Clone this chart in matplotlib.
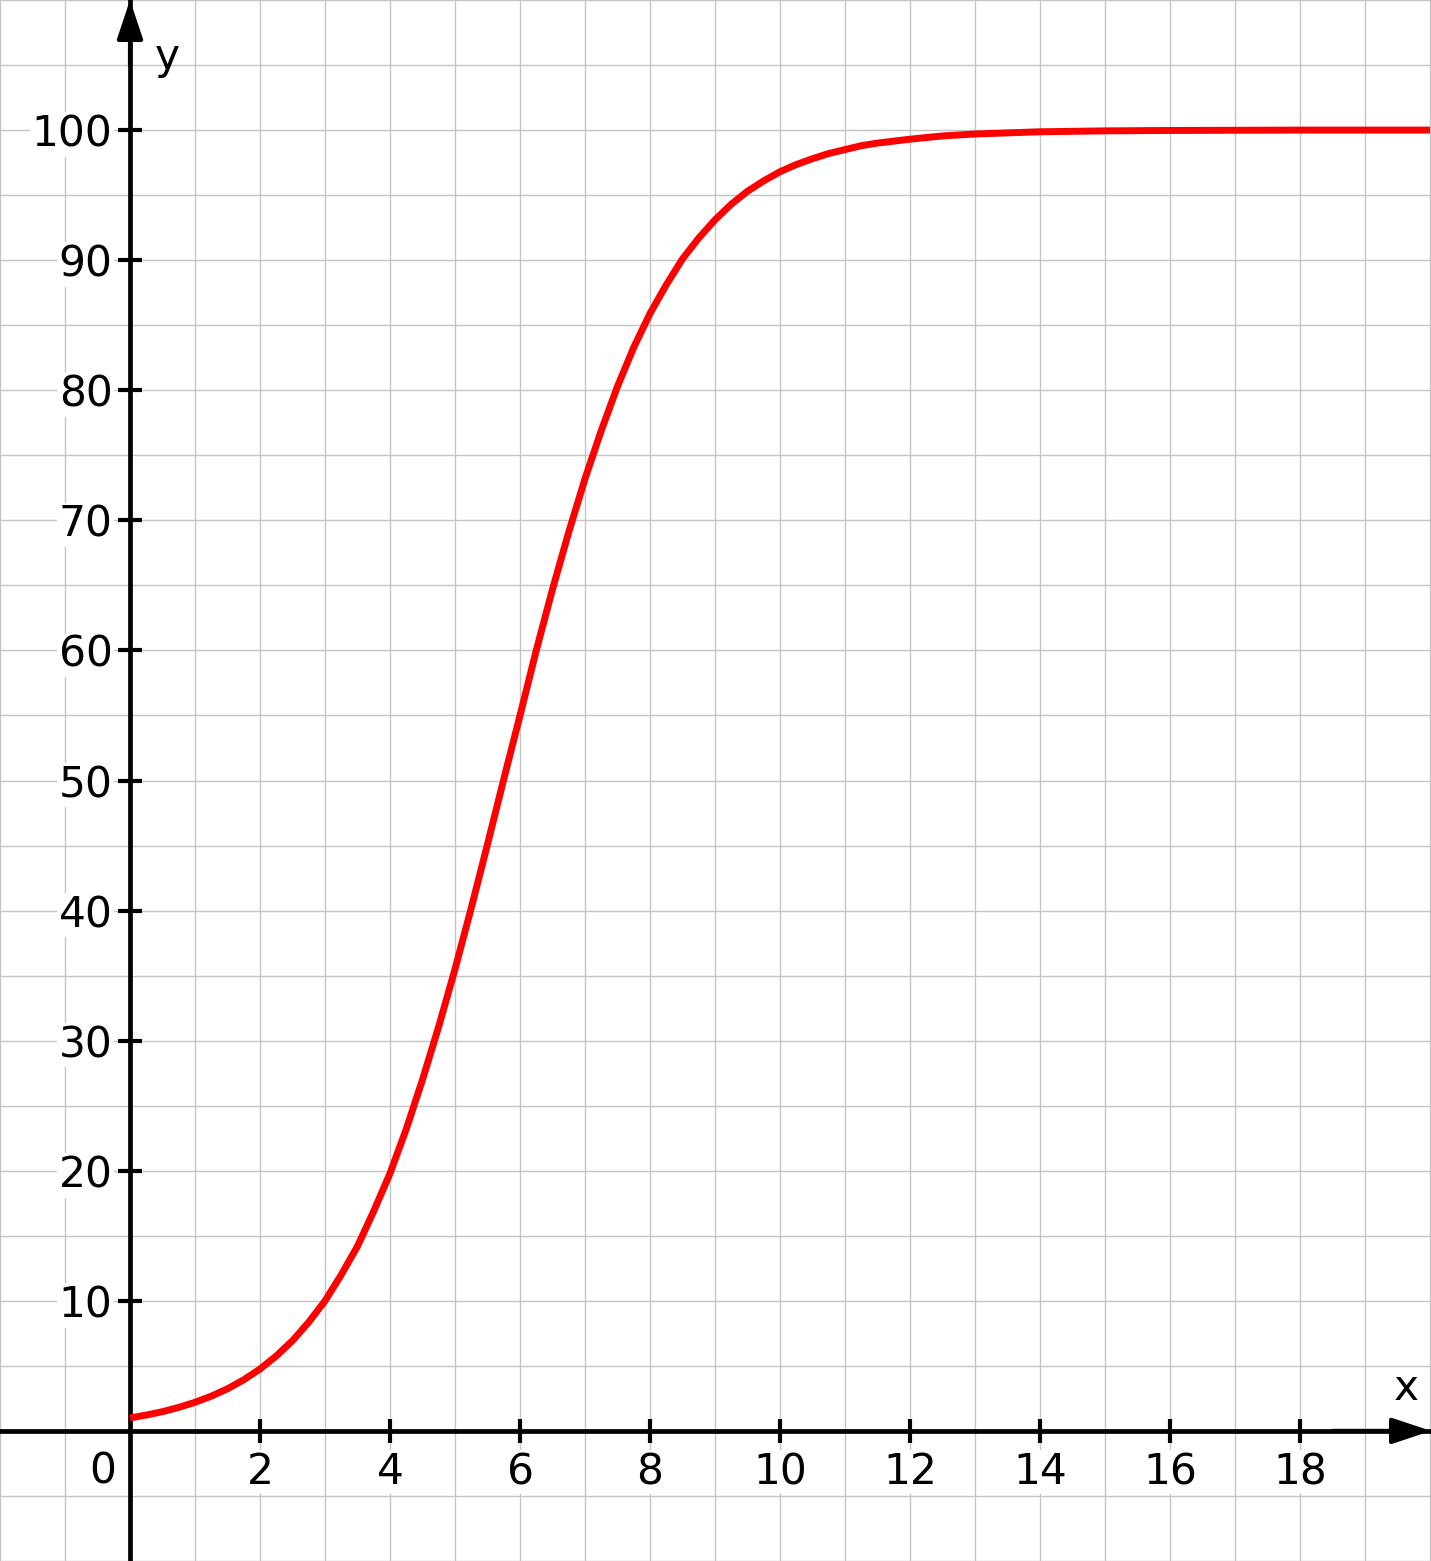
import numpy as np
import matplotlib
matplotlib.use("Agg")
import matplotlib.pyplot as plt
from matplotlib.ticker import MultipleLocator

# values
x_vals = [0, 0.25, 0.5, 0.75, 1, 1.25, 1.5, 1.75, 2, 2.25, 2.5, 2.75, 3, 3.25,
          3.5, 3.75, 4, 4.25, 4.5, 4.75, 5, 5.25, 5.5, 5.75, 6, 6.25, 6.5,
          6.75, 7, 7.25, 7.5, 7.75, 8, 8.25, 8.5, 8.75, 9, 9.25, 9.5, 9.75,
          10, 10.25, 10.5, 10.75, 11, 11.25, 11.5, 12, 12.5, 13, 14, 15, 16,
          18, 20]
y_vals = [1.0, 1.22, 1.48, 1.81, 2.2, 2.67, 3.24, 3.93, 4.76, 5.76, 6.94,
          8.36, 10.0, 12.0, 14.2, 16.9, 19.8, 23.2, 27.0, 31.1, 35.5, 40.2,
          45.1, 50.1, 55.0, 60.0, 64.7, 69.1, 73.2, 76.9, 80.3, 83.3, 85.9,
          88.1, 90.1, 91.7, 93.1, 94.3, 95.3, 96.1, 96.8, 97.35, 97.8, 98.2,
          98.5, 98.8, 99.0, 99.3, 99.55, 99.7, 99.87, 99.94, 99.97, 100.0,
          100.0]

xticks = [2, 4, 6, 8, 10, 12, 14, 16, 18]
yticks = [10, 20, 30, 40, 50, 60, 70, 80, 90, 100]

plt.rcParams['font.family'] = ['DejaVu Sans']

fig = plt.figure(figsize=(14.31, 15.61), dpi=100)
ax = fig.add_axes([0, 0, 1, 1])
ax.set_xlim(-2, 20.015)
ax.set_ylim(-10, 110)

# grid
ax.xaxis.set_minor_locator(MultipleLocator(1))
ax.yaxis.set_minor_locator(MultipleLocator(5))
ax.grid(which='both', color='#c4c4c4', lw=1)
ax.tick_params(which='minor', length=0)

# axes through origin
for side in ['top', 'right']:
    ax.spines[side].set_visible(False)
ax.spines['left'].set_position(('data', 0))
ax.spines['bottom'].set_position(('data', 0))
ax.spines['left'].set_linewidth(3.4)
ax.spines['bottom'].set_linewidth(3.4)

ax.set_xticks(xticks)
ax.set_yticks(yticks)
ax.set_xticklabels([str(t) for t in xticks])
ax.set_yticklabels([str(t) for t in yticks])
ax.tick_params(which='major', direction='inout', length=17, width=3,
               labelsize=30.5, pad=6)
ax.tick_params(axis='y', pad=4)
for lab in ax.get_xticklabels() + ax.get_yticklabels():
    lab.set_bbox(dict(facecolor='white', edgecolor='none', pad=1))

# arrow heads
ax.annotate('', xy=(20.015, 0), xytext=(18.5, 0),
            arrowprops=dict(arrowstyle='-|>,head_length=0.6,head_width=0.2',
                            lw=3, color='black', mutation_scale=40,
                            shrinkA=0, shrinkB=0))
ax.annotate('', xy=(0, 110), xytext=(0, 105),
            arrowprops=dict(arrowstyle='-|>,head_length=0.6,head_width=0.2',
                            lw=3, color='black', mutation_scale=40,
                            shrinkA=0, shrinkB=0))

ax.plot(x_vals, y_vals, color='#ff0000', lw=5, solid_capstyle='butt',
        solid_joinstyle='round', zorder=3)

ax.text(-0.42, -3.15, '0', fontsize=30.5, ha='center', va='center')
ax.text(0.57, 105.6, 'y', fontsize=30.5, ha='center', va='center')
ax.text(19.63, 3.3, 'x', fontsize=30.5, ha='center', va='center')

fig.savefig('out.png', dpi=100)
